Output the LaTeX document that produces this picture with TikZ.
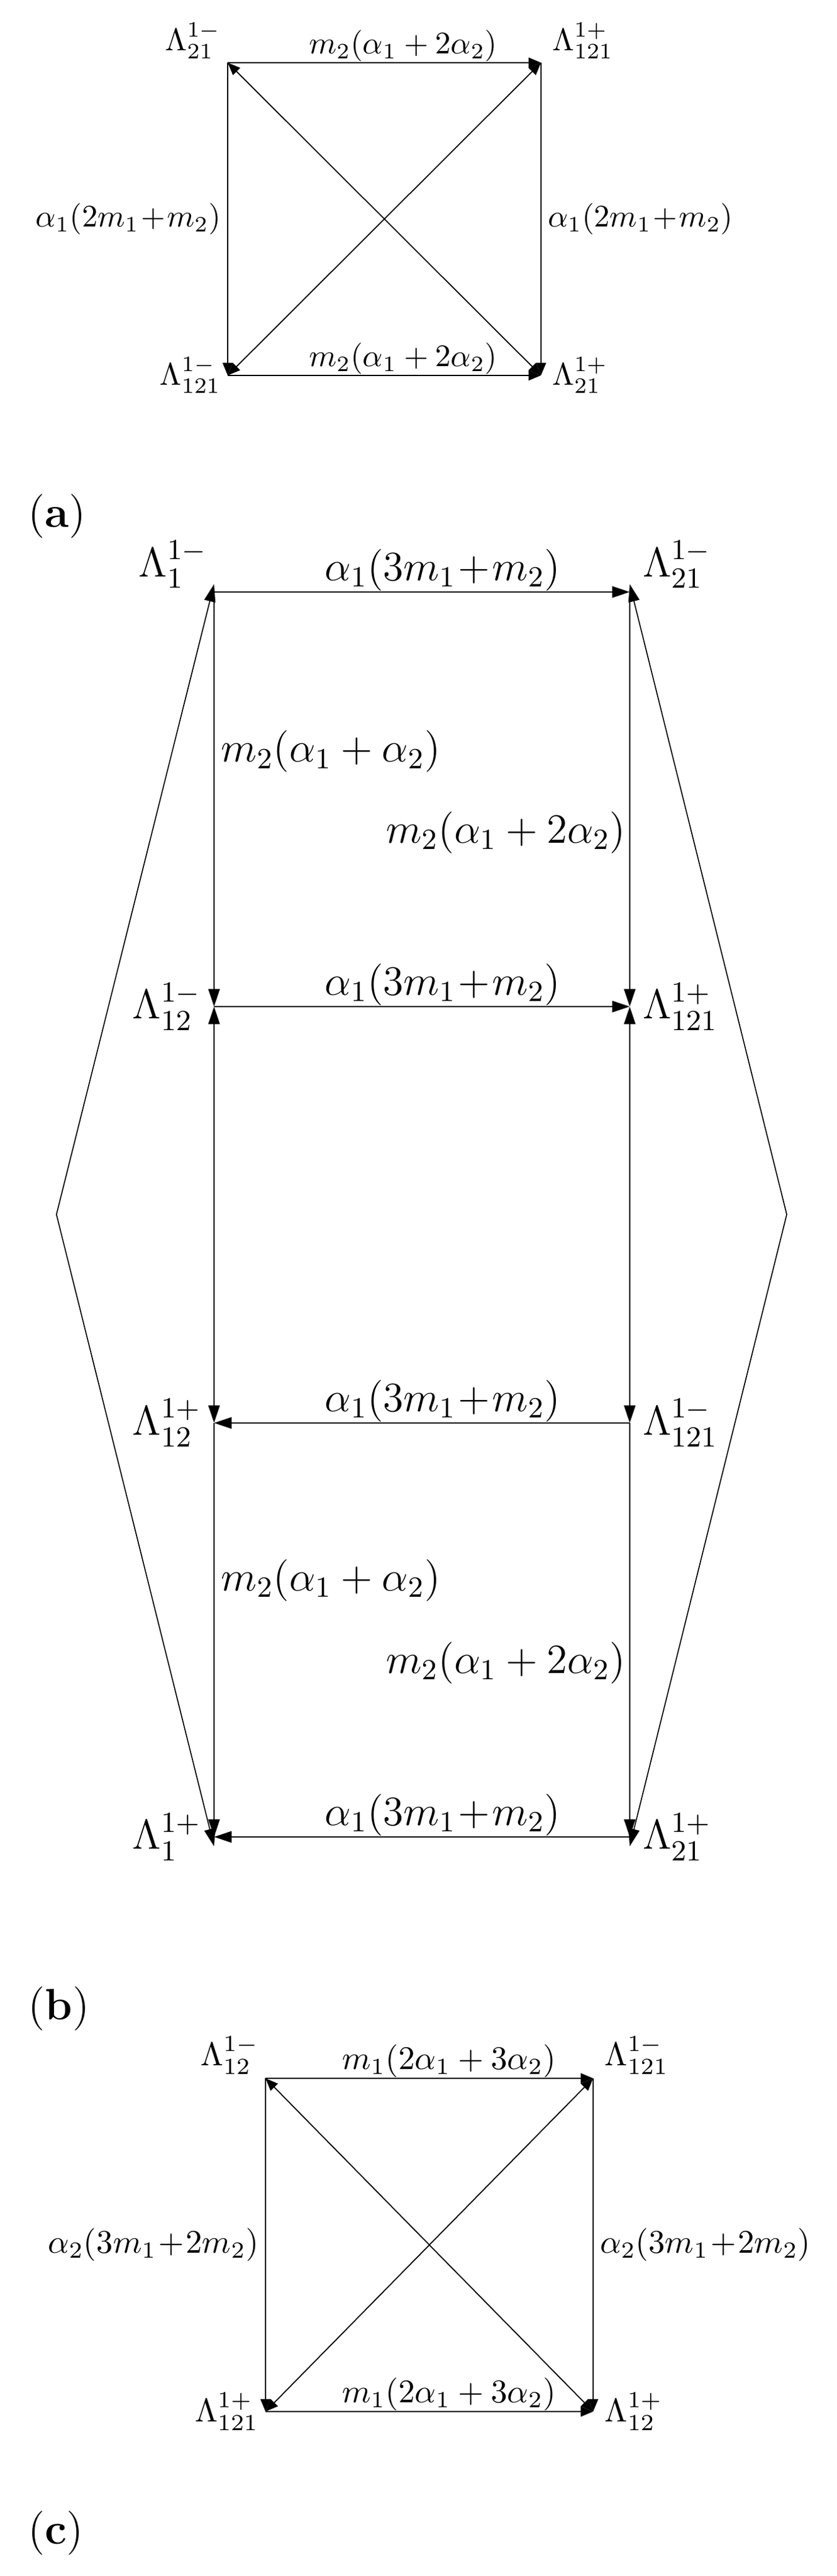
\RequirePackage{fix-cm}
\documentclass[tikz,border=0pt]{standalone}
\usepackage{amsmath}
\usepackage{tikz}
\usetikzlibrary{arrows.meta}
\usetikzlibrary{positioning}
\tikzstyle{thickarr} = [line width=0.55pt,->]
\tikzstyle{thinarr} = [line width=0.4pt,->]
\tikzstyle{twoarr} = [line width=0.35pt,<->]
\tikzstyle{thicktwo} = [line width=0.55pt,<->]
\tikzstyle{outline} = [line width=0.33pt,<->]
\tikzstyle{corner} = [inner sep=1pt]
\tikzstyle{elabel} = [inner sep=0pt]
\tikzstyle{subcap} = [font=\fontsize{14}{17}\selectfont]

\begin{document}
\begin{tikzpicture}[>={Triangle[length=4pt,width=3.2pt]}]
    \useasboundingbox (0,0) rectangle (9.381,28.887);

    % panel (a)
    \coordinate (a21m) at (2.554, 28.184);
    \coordinate (a121p) at (6.068, 28.184);
    \coordinate (a121m) at (2.554, 24.677);
    \coordinate (a21p) at (6.068, 24.677);
    \node[corner, above left=0pt and 1pt of a21m] (ta21m) {$\Lambda_{21}^{1-}$};
    \node[corner, above right=0pt and 2.5pt of a121p] (ta121p) {$\Lambda_{121}^{1+}$};
    \node[corner, left=1pt of a121m] (ta121m) {$\Lambda_{121}^{1-}$};
    \node[corner, right=2.5pt of a21p] (ta21p) {$\Lambda_{21}^{1+}$};
    \draw[thickarr] (a21m) to node[above, pos=0.56, elabel]{$m_2(\alpha_1+2\alpha_2)$} (a121p);
    \draw[thickarr] (a121m) to node[above, pos=0.56, elabel]{$m_2(\alpha_1+2\alpha_2)$} (a21p);
    \draw[thinarr] (a21m) to node[left, midway, inner sep=2pt]{$\alpha_1(2m_1\!+\!m_2)$} (a121m);
    \draw[thinarr] (a121p) to node[right, midway, inner sep=2pt]{$\alpha_1(2m_1\!+\!m_2)$} (a21p);
    % diagonals
    \draw[twoarr] (a21m) to (a21p);
    \draw[twoarr] (a121m) to (a121p);
    \node[subcap] (capa) at (0.640, 23.097) {(\textbf{a})};

    % panel (b)
    \begin{scope}[font=\fontsize{13.3}{16}\selectfont, >={Triangle[length=5.6pt,width=3.6pt]}]
    \coordinate (b1m) at (2.401, 22.248);
    \coordinate (b21m) at (7.063, 22.248);
    \coordinate (b12m) at (2.401, 17.599);
    \coordinate (b121p) at (7.063, 17.599);
    \coordinate (b12p) at (2.401, 12.930);
    \coordinate (b121m) at (7.063, 12.930);
    \coordinate (b1p) at (2.401, 8.288);
    \coordinate (b21p) at (7.063, 8.288);
    \coordinate (lapex) at (0.633, 15.268);
    \coordinate (rapex) at (8.824, 15.268);
    \node[corner, above left=0pt and 1pt of b1m] (tb1m) {$\Lambda_{1}^{1-}$};
    \node[corner, above right=0pt and 3pt of b21m] (tb21m) {$\Lambda_{21}^{1-}$};
    \node[corner, left=3pt of b12m] (tb12m) {$\Lambda_{12}^{1-}$};
    \node[corner, right=3pt of b121p] (tb121p) {$\Lambda_{121}^{1+}$};
    \node[corner, left=3pt of b12p] (tb12p) {$\Lambda_{12}^{1+}$};
    \node[corner, right=3pt of b121m] (tb121m) {$\Lambda_{121}^{1-}$};
    \node[corner, left=3pt of b1p] (tb1p) {$\Lambda_{1}^{1+}$};
    \node[corner, right=3pt of b21p] (tb21p) {$\Lambda_{21}^{1+}$};
    % rungs
    \draw[thickarr] (b1m) to node[above, pos=0.55, elabel]{$\alpha_1(3m_1\!+\!m_2)$} (b21m);
    \draw[thickarr] (b12m) to node[above, pos=0.55, elabel]{$\alpha_1(3m_1\!+\!m_2)$} (b121p);
    \draw[thickarr] (b121m) to node[above, pos=0.45, elabel]{$\alpha_1(3m_1\!+\!m_2)$} (b12p);
    \draw[thickarr] (b21p) to node[above, pos=0.45, elabel]{$\alpha_1(3m_1\!+\!m_2)$} (b1p);
    % left column
    \draw[thickarr] (b1m) to node[right, pos=0.385, inner sep=2pt]{$m_2(\alpha_1+\alpha_2)$} (b12m);
    \draw[thicktwo] (b12m) to (b12p);
    \draw[thickarr] (b12p) to node[right, pos=0.38, inner sep=2pt]{$m_2(\alpha_1+\alpha_2)$} (b1p);
    % right column
    \draw[thickarr] (b21m) to node[left, pos=0.58, inner sep=1pt]{$m_2(\alpha_1+2\alpha_2)$} (b121p);
    \draw[thicktwo] (b121p) to (b121m);
    \draw[thickarr] (b121m) to node[left, pos=0.58, inner sep=1pt]{$m_2(\alpha_1+2\alpha_2)$} (b21p);
    % outer lines
    \draw[outline] ([yshift=2.5pt]b1m) -- (lapex) -- ([yshift=-3pt]b1p);
    \draw[outline] ([yshift=2.5pt]b21m) -- (rapex) -- ([yshift=-3pt]b21p);
    \end{scope}
    \node[subcap] (capb) at (0.661, 6.361) {(\textbf{b})};

    % panel (c)
    \begin{scope}[font=\fontsize{10.5}{12.6}\selectfont]
    \coordinate (c12m) at (2.978, 5.581);
    \coordinate (c121m) at (6.653, 5.581);
    \coordinate (c121p) at (2.978, 1.844);
    \coordinate (c12p) at (6.653, 1.844);
    \node[corner, above left=0pt and 1pt of c12m] (tc12m) {$\Lambda_{12}^{1-}$};
    \node[corner, above right=0pt and 2.5pt of c121m] (tc121m) {$\Lambda_{121}^{1-}$};
    \node[corner, left=1pt of c121p] (tc121p) {$\Lambda_{121}^{1+}$};
    \node[corner, right=2.5pt of c12p] (tc12p) {$\Lambda_{12}^{1+}$};
    \draw[thickarr] (c12m) to node[above, pos=0.56, elabel]{$m_1(2\alpha_1+3\alpha_2)$} (c121m);
    \draw[thickarr] (c121p) to node[above, pos=0.56, elabel]{$m_1(2\alpha_1+3\alpha_2)$} (c12p);
    \draw[thinarr] (c12m) to node[left, midway, inner sep=2pt]{$\alpha_2(3m_1\!+\!2m_2)$} (c121p);
    \draw[thinarr] (c121m) to node[right, midway, inner sep=2pt]{$\alpha_2(3m_1\!+\!2m_2)$} (c12p);
    % diagonals
    \draw[twoarr] (c12m) to (c12p);
    \draw[twoarr] (c121p) to (c121m);
    \end{scope}
    \node[subcap] (capc) at (0.626, 0.480) {(\textbf{c})};

\end{tikzpicture}
\end{document}
